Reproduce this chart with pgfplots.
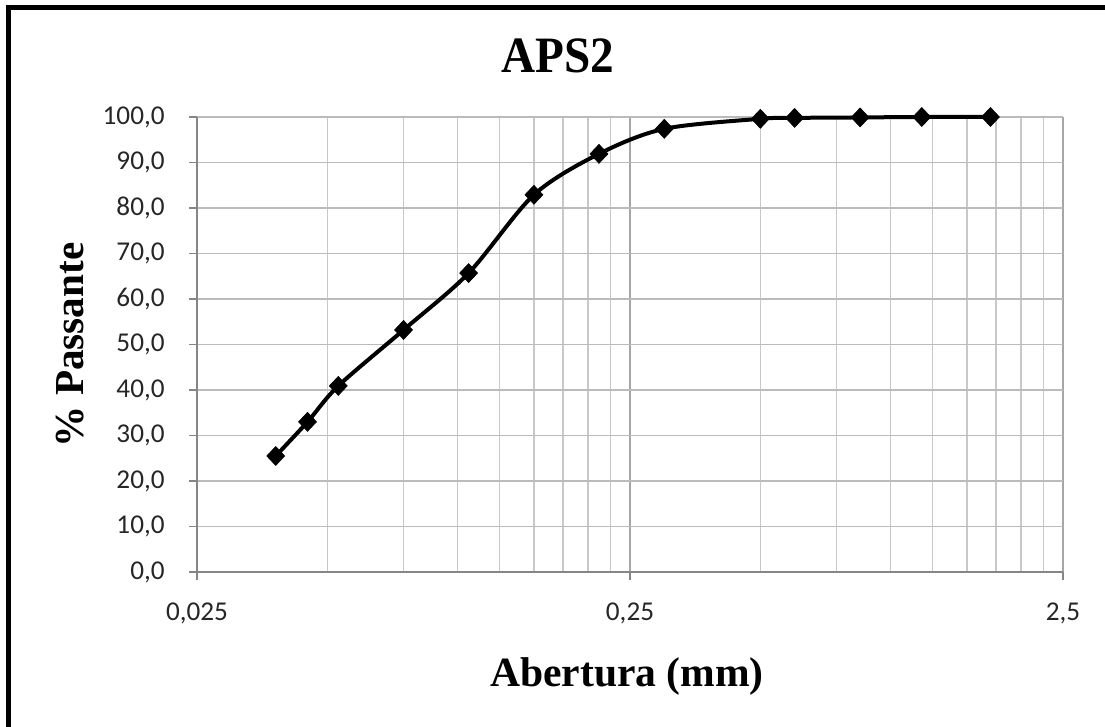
\documentclass[border=0pt]{standalone}
\usepackage{pgfplots}
\pgfplotsset{compat=1.18}
\usepackage{fontspec}
\setmainfont{Liberation Serif}
\newfontfamily\calib{Carlito}
\definecolor{axgray}{HTML}{868686}
\definecolor{gridmaj}{HTML}{A6A6A6}
\definecolor{gridy}{HTML}{BBBBBB}
\definecolor{gridmin}{HTML}{C8C8C8}
\begin{document}
\begin{tikzpicture}
\useasboundingbox (0,0) rectangle (552.5pt,363.5pt);
\draw[line width=2.5pt, line join=miter] (552.5pt,359.75pt) -- (4.25pt,359.75pt) -- (4.25pt,0pt);
\begin{axis}[
  at={(98.5pt,77.5pt)}, anchor=south west,
  scale only axis, width=433pt, height=227.5pt,
  xmode=log, xmin=0.025, xmax=2.5, ymin=0, ymax=100,
  axis lines*=left,
  axis line style={draw=axgray, line width=0.6pt, -},
  xtick={0.025,0.25,2.5}, xticklabels={{0,025},{0,25},{2,5}},
  minor xtick={0.05,0.075,0.1,0.125,0.15,0.175,0.2,0.225,0.5,0.75,1,1.25,1.5,1.75,2,2.25},
  ytick={0,10,...,100},
  tick align=outside, major tick length=4pt, minor tick length=0pt,
  every tick/.style={draw=axgray, line width=0.6pt},
  xmajorgrids, xminorgrids, ymajorgrids,
  x grid style={draw=gridmaj, line width=0.6pt},
  minor x grid style={draw=gridmin, line width=0.6pt},
  y grid style={draw=gridy, line width=0.6pt},
  /pgf/number format/assume math mode=true,
  yticklabel={\pgfmathprintnumber[fixed, fixed zerofill, precision=1, use comma]{\tick}},
  tick label style={font=\calib\fontsize{13.6}{16}\selectfont, text=black!85},
  yticklabel style={anchor=east, inner sep=0pt, xshift=-12pt},
  xticklabel style={anchor=base, inner sep=0pt, yshift=-20.5pt},
  title={APS2},
  title style={font=\bfseries\fontsize{23.6}{28}\selectfont, at={(axis description cs:0.4163,1.0725)}, anchor=base, yscale=1.08},
  xlabel={Abertura (mm)},
  xlabel style={font=\bfseries\fontsize{20.8}{25}\selectfont, at={(axis description cs:0.4965,-0.2527)}, anchor=base},
  ylabel={\% Passante},
  ylabel style={font=\bfseries\fontsize{20.6}{25}\selectfont, at={(axis description cs:-0.1316,0.4989)}, anchor=base, rotate=0},
  clip=false,
]
\addplot[black, line width=2pt, smooth, mark=diamond*, mark size=4.75pt,
  mark options={solid, line width=0.3pt, xscale=1.26}]
  coordinates {
  (0.038,25.5) (0.045,33.0) (0.053,40.9) (0.075,53.2) (0.106,65.7)
  (0.150,82.9) (0.212,91.9) (0.300,97.4) (0.500,99.6) (0.600,99.8)
  (0.850,99.9) (1.180,100.0) (1.700,100.0)
  };
\end{axis}
\end{tikzpicture}
\end{document}
